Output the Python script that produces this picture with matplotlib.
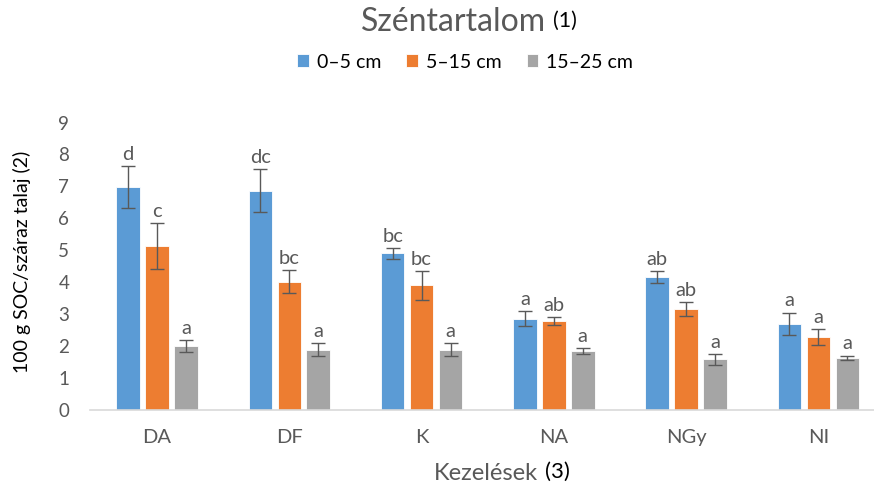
import matplotlib
matplotlib.use("Agg")
import matplotlib.pyplot as plt
import numpy as np

categories = ["DA", "DF", "K", "NA", "NGy", "NI"]
series_names = ["0–5 cm", "5–15 cm", "15–25 cm"]
v_0_5 = [6.98, 6.86, 4.90, 2.85, 4.16, 2.69]
v_5_15 = [5.12, 4.00, 3.89, 2.77, 3.16, 2.27]
v_15_25 = [1.99, 1.88, 1.88, 1.83, 1.57, 1.62]
e_0_5 = [0.66, 0.67, 0.17, 0.24, 0.19, 0.35]
e_5_15 = [0.72, 0.36, 0.46, 0.13, 0.22, 0.26]
e_15_25 = [0.18, 0.21, 0.19, 0.09, 0.18, 0.07]
l_0_5 = ["d", "dc", "bc", "a", "ab", "a"]
l_5_15 = ["c", "bc", "bc", "ab", "ab", "a"]
l_15_25 = ["a", "a", "a", "a", "a", "a"]
yticks = list(range(0, 10))

colors = ["#5B9BD5", "#ED7D31", "#A5A5A5"]
FONT = ["Lato", "DejaVu Sans"]
plt.rcParams["font.family"] = FONT

W, H = 874, 490
fig = plt.figure(figsize=(W / 100, H / 100), dpi=100)
y0, y9 = 409.5, 122.5
ax = fig.add_axes([90 / W, 1 - y0 / H, (W - 90) / W, (y0 - y9) / H])
ax.set_ylim(0, 9)
ax.set_xlim(-0.507, 5.421)

x = np.arange(len(categories))
pitch = 0.219
width = 0.178
vals = [v_0_5, v_5_15, v_15_25]
errs = [e_0_5, e_5_15, e_15_25]
labs = [l_0_5, l_5_15, l_15_25]
handles = []
for i in range(3):
    xs = x + (i - 1) * pitch
    b = ax.bar(xs, vals[i], width, color=colors[i], edgecolor="white", linewidth=0.6,
               label=series_names[i], zorder=2)
    handles.append(b)
    ax.errorbar(xs, vals[i], yerr=errs[i], fmt="none", ecolor="#595959",
                elinewidth=1.0, capsize=5, capthick=1.0, zorder=3)
    for xx, v, e, t in zip(xs, vals[i], errs[i], labs[i]):
        ax.text(xx, v + e + 0.1, t, ha="center", va="bottom", fontsize=14.5,
                color="#595959")

for s in ["top", "right", "left"]:
    ax.spines[s].set_visible(False)
ax.spines["bottom"].set_color("#D9D9D9")
ax.spines["bottom"].set_linewidth(1.2)
ax.set_yticks(yticks)
ax.set_xticks(x)
ax.set_xticklabels(categories)
ax.tick_params(axis="y", length=0, labelsize=13.5, labelcolor="#595959", pad=15)
ax.tick_params(axis="x", length=0, labelsize=14.5, labelcolor="#595959", pad=14)

# Title
fig.text(546 / W, 1 - 22 / H, "Széntartalom", ha="right", va="center",
         fontsize=23, color="#595959")
fig.text(553 / W, 1 - 21 / H, "(1)", ha="left", va="center",
         fontsize=15.5, color="black")

# Legend
leg = fig.legend(handles=handles, labels=series_names, loc="center",
                 bbox_to_anchor=(465 / W, 1 - 62 / H), ncol=3, frameon=False,
                 fontsize=14, handlelength=0.6, handleheight=0.6,
                 handletextpad=0.4, columnspacing=1.3)

# X label
fig.text(538 / W, 1 - 473 / H, "Kezelések", ha="right", va="center",
         fontsize=17, color="#595959")
fig.text(545 / W, 1 - 472 / H, "(3)", ha="left", va="center",
         fontsize=16, color="black")

# Y label
fig.text(22 / W, 1 - 262 / H, "100 g SOC/száraz talaj (2)", rotation=90,
         ha="center", va="center", fontsize=14, color="black")

fig.savefig("out.png", dpi=100)
